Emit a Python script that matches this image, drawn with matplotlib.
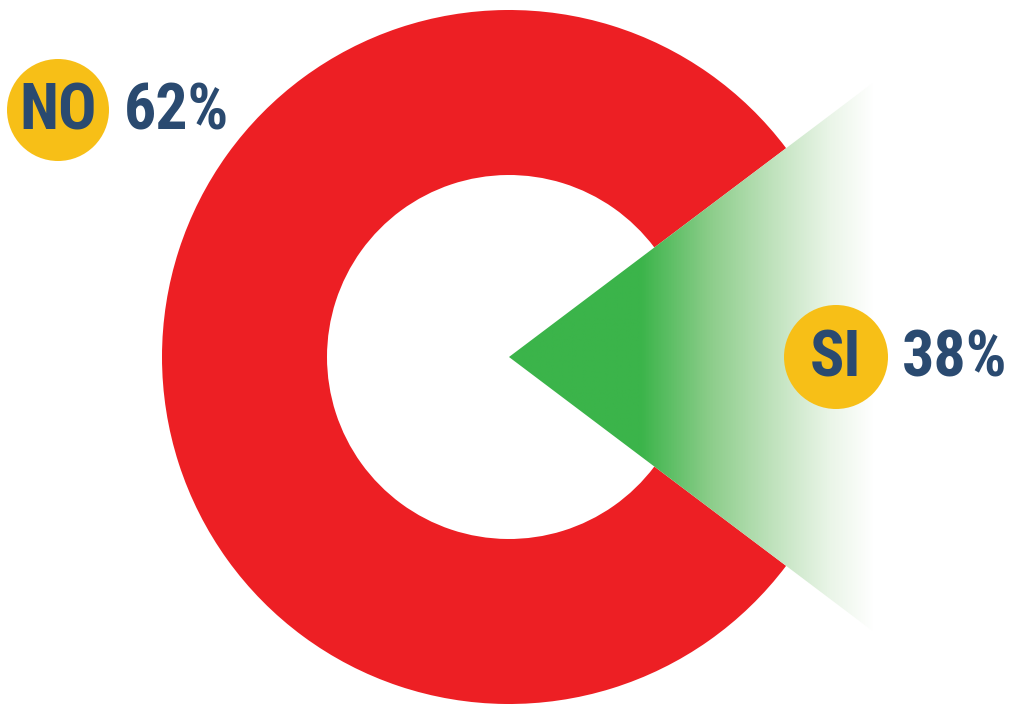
import numpy as np
import matplotlib.pyplot as plt
from matplotlib.patches import Wedge, Circle, Polygon
from matplotlib.colors import LinearSegmentedColormap
from matplotlib import font_manager

# Data
labels = ['NO', 'SI']
values = [62, 38]

RED = '#ED1F24'
GREEN = '#3BB44A'
YELLOW = '#F7BF17'
NAVY = '#2A4A70'

names = {f.name for f in font_manager.fontManager.ttflist}
font = 'Roboto'
for cand in ['Roboto Condensed', 'Liberation Sans Narrow', 'Open Sans Condensed']:
    if cand in names:
        font = cand
        break
condensed = font != 'Roboto'

fig = plt.figure(figsize=(10.13, 7.07), dpi=100)
ax = fig.add_axes([0, 0, 1, 1])
ax.set_xlim(0, 1013)
ax.set_ylim(707, 0)
ax.set_aspect('equal')
ax.axis('off')

# ring geometry (pixel space, y down)
cx, cy = 509, 357
r_out, r_in = 347, 182
half_gap = 37

ring = Wedge((cx, cy), r_out, half_gap, 360 - half_gap, width=r_out - r_in,
             facecolor=RED, edgecolor='none')
ax.add_patch(ring)

# green fading triangle
L = 455
tx = cx + L * np.cos(np.radians(half_gap))
ty = L * np.sin(np.radians(half_gap))
tri = np.array([[cx, cy], [tx, cy - ty], [tx, cy + ty]])
clip = Polygon(tri, closed=True, facecolor='none', edgecolor='none')
ax.add_patch(clip)

cmap = LinearSegmentedColormap.from_list(
    'fade', [(0, GREEN), (0.36, GREEN), (0.55, '#8CCD8A'), (0.72, '#BFE2BC'),
             (0.88, '#EAF5E8'), (1, '#FFFFFF')])
grad = np.tile(np.linspace(0, 1, 400), (10, 1))
im = ax.imshow(grad, cmap=cmap, extent=[cx, tx + 2, 707, 0],
               aspect='auto', zorder=2, interpolation='bilinear')
im.set_clip_path(clip)

# labels
badges = [(58, 110, 51), (836, 357, 52)]
pct_pos = [(124, 110), (902, 357)]
size_badge = 46 if condensed else 38
size_pct = 46 if condensed else 41
for lab, val, (bx, by, br), (px, py) in zip(labels, values, badges, pct_pos):
    ax.add_patch(Circle((bx, by), br, facecolor=YELLOW, edgecolor='none', zorder=3))
    ax.text(bx, by + 2, lab, ha='center', va='center', color=NAVY, fontsize=size_badge,
            fontweight='bold', family=font, zorder=4)
    ax.text(px, py + 2, f'{val}%', ha='left', va='center', color=NAVY, fontsize=size_pct,
            fontweight='bold', family=font, zorder=4)

fig.savefig('out.png', dpi=100)
